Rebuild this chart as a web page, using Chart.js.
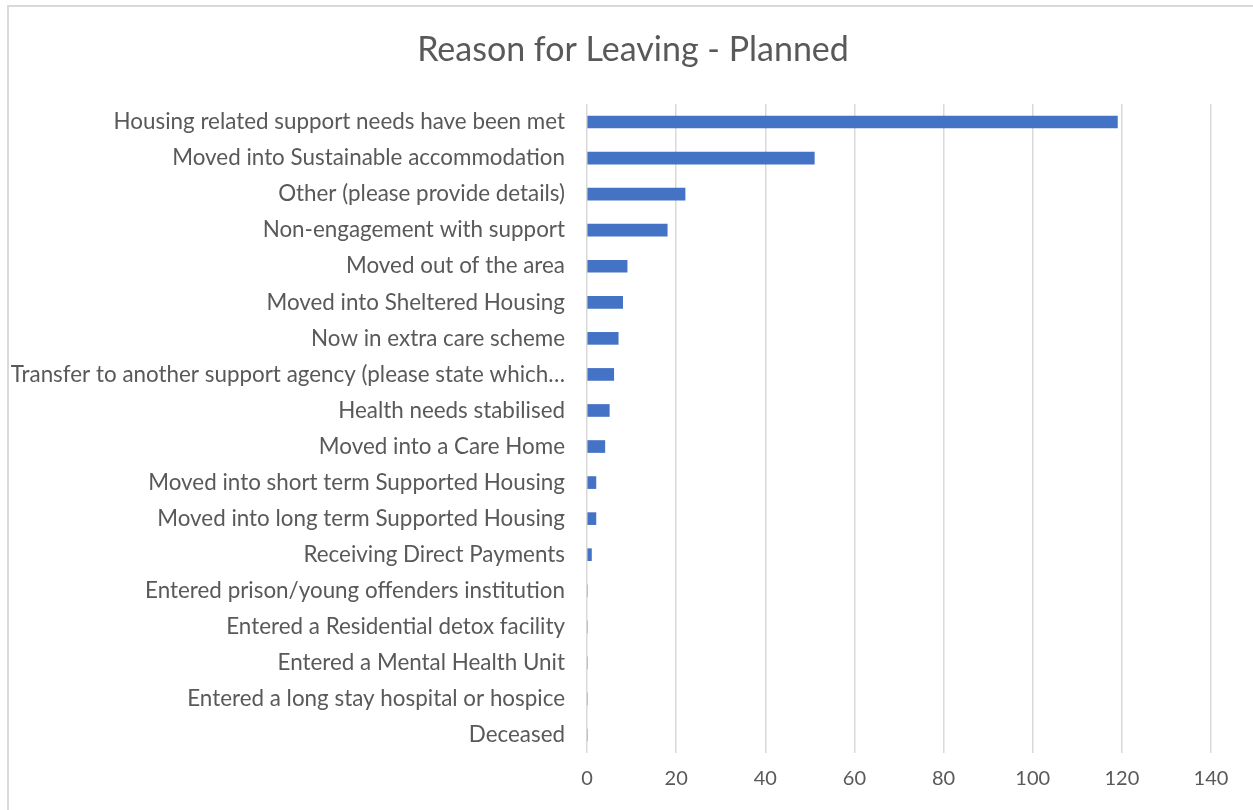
<!DOCTYPE html>
<html>
<head>
<meta charset="utf-8">
<script src="https://cdn.jsdelivr.net/npm/chart.js@4"></script>
<style>
  body { margin: 0; background: #fff; }
  #wrap { position: relative; width: 1253px; height: 810px; }
  #frame { position: absolute; left: 7px; top: 5px; width: 1260px; height: 820px; border: 2px solid #d9d9d9; box-sizing: border-box; pointer-events: none; }
</style>
</head>
<body>
<div id="wrap">
  <canvas id="reasonChart" width="1253" height="810"></canvas>
  <div id="frame"></div>
</div>
<script>
const reasons = [
    'Housing related support needs have been met',
    'Moved into Sustainable accommodation',
    'Other (please provide details)',
    'Non-engagement with support',
    'Moved out of the area',
    'Moved into Sheltered Housing',
    'Now in extra care scheme',
    'Transfer to another support agency (please state which\u2026',
    'Health needs stabilised',
    'Moved into a Care Home',
    'Moved into short term Supported Housing',
    'Moved into long term Supported Housing',
    'Receiving Direct Payments',
    'Entered prison/young offenders institution',
    'Entered a Residential detox facility',
    'Entered a Mental Health Unit',
    'Entered a long stay hospital or hospice',
    'Deceased'
];
const counts = [119, 51, 22, 18, 9, 8, 7, 6, 5, 4, 2, 2, 1, 0, 0, 0, 0, 0];
const xMin = 0;
const xMax = 140;
const xStep = 20;

// title is drawn by hand so it can sit centred on the frame, not the padded box
const titlePlugin = {
    id: 'centredTitle',
    afterDraw(chart) {
        const c = chart.ctx;
        c.save();
        c.font = '34px Lato';
        c.fillStyle = '#595959';
        c.textAlign = 'center';
        c.textBaseline = 'middle';
        c.fillText('Reason for Leaving - Planned', 633, 50);
        c.restore();
    }
};

document.addEventListener('DOMContentLoaded', () => {
    const ctx = document.getElementById('reasonChart').getContext('2d');
    new Chart(ctx, {
        type: 'bar',
        data: {
            labels: reasons,
            datasets: [{
                label: 'Reason for Leaving - Planned',
                data: counts,
                backgroundColor: '#4472c4',
                barThickness: 12
            }]
        },
        options: {
            indexAxis: 'y',
            responsive: false,
            animation: false,
            layout: { padding: { top: 104, left: 0, right: 42, bottom: 5 } },
            plugins: {
                legend: { display: false },
                tooltip: { enabled: false },
                title: { display: false }
            },
            scales: {
                x: {
                    min: xMin,
                    max: xMax,
                    ticks: {
                        stepSize: xStep,
                        color: '#595959',
                        font: { family: 'Lato', size: 20 },
                        padding: 14
                    },
                    grid: { color: '#d9d9d9', lineWidth: 1.5, drawTicks: false },
                    border: { display: false }
                },
                y: {
                    ticks: {
                        color: '#595959',
                        font: { family: 'Lato', size: 22.4 },
                        padding: 22,
                        autoSkip: false
                    },
                    grid: { display: false, drawTicks: false },
                    border: { display: false },
                    afterFit: scale => { scale.width = 587; }
                }
            }
        },
        plugins: [titlePlugin]
    });
});
</script>
</body>
</html>
